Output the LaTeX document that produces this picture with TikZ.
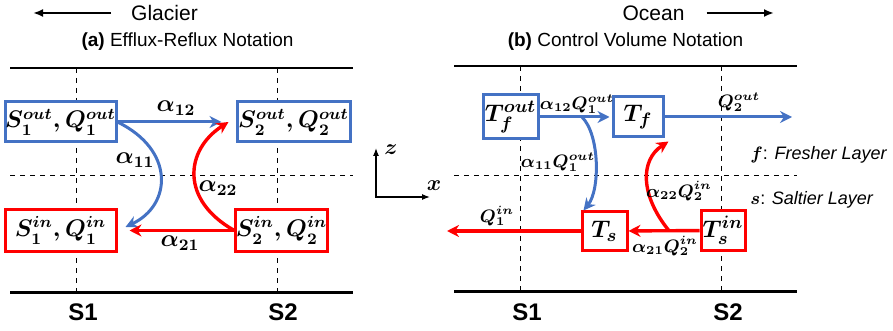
\documentclass[tikz,border=0pt]{standalone}
\usepackage{amsmath}
\usepackage{fontspec}
\setmainfont{Liberation Sans}
\usetikzlibrary{arrows.meta}
\definecolor{fblue}{RGB}{68,114,196}
\definecolor{sred}{RGB}{255,0,0}

\begin{document}
\begin{tikzpicture}[x=0.5pt,y=-0.5pt,
    bluebox/.style={draw=fblue,line width=1.5pt,fill=white,inner sep=0pt,font=\fontsize{12}{14}\selectfont},
    redbox/.style={bluebox,draw=sred},
    bluearrow/.style={draw=fblue,line width=1.5pt,-{Stealth[length=6pt,width=6pt]}},
    redarrow/.style={draw=sred,line width=1.7pt,-{Stealth[length=6pt,width=6pt]}},
    gridline/.style={dash pattern=on 2.5pt off 2.5pt,line width=0.5pt},
    flux/.style={inner sep=1pt,font=\fontsize{12}{14}\selectfont},
    fluxsmall/.style={inner sep=0.5pt,font=\fontsize{9}{10}\selectfont},
    slabel/.style={font=\fontsize{12}{14}\selectfont\bfseries},
    layer/.style={anchor=west,inner sep=1pt,font=\fontsize{9}{11}\selectfont}]
    \useasboundingbox (0,0) rectangle (893,331);
    % headings
    \node[font=\fontsize{10.5}{12}\selectfont] (glacier) at (164.5,13) {Glacier};
    \coordinate (glend) at (33,13);
    \draw[line width=1pt,-{Latex[length=5pt,width=4pt]}] ([xshift=-6.5pt]glacier.west) -- (glend);
    \node[font=\fontsize{10.5}{12}\selectfont] (ocean) at (653.5,13) {Ocean};
    \coordinate (ocend) at (774,13);
    \draw[line width=1pt,-{Latex[length=5pt,width=4pt]}] ([xshift=7.5pt]ocean.east) -- (ocend);
    \node[font=\fontsize{9.5}{11}\selectfont] (titlea) at (187.5,42) {\textbf{(a)} Efflux-Reflux Notation};
    \node[font=\fontsize{9.5}{11}\selectfont] (titleb) at (625.5,42) {\textbf{(b)} Control Volume Notation};
    % frames
    \draw[line width=0.6pt] (10,68) -- (353,68);
    \draw[line width=1.5pt] (10,292) -- (353,292);
    \draw[line width=0.6pt] (454,66) -- (797,66);
    \draw[line width=1.5pt] (454,291) -- (797,291);
    \draw[gridline] (76,68) -- (76,292);
    \draw[gridline] (277,68) -- (277,292);
    \draw[gridline] (10,176) -- (353,176);
    \draw[gridline] (520,66) -- (520,291);
    \draw[gridline] (721,66) -- (721,291);
    \draw[gridline] (454,176) -- (797,176);
    \node[slabel] (s1a) at (83,312) {S1};
    \node[slabel] (s2a) at (283,312) {S2};
    \node[slabel] (s1b) at (527,312) {S1};
    \node[slabel] (s2b) at (728,312) {S2};
    % axes
    \coordinate (origin) at (376,197);
    \coordinate (zend) at (376,148);
    \coordinate (xend) at (430,197);
    \draw[line width=0.6pt,{Latex[length=4pt,width=3pt]}-{Latex[length=4pt,width=3pt]}] (zend) -- (origin) -- (xend);
    \node[font=\fontsize{11}{13}\selectfont] (zlab) at (391,150) {$\boldsymbol{z}$};
    \node[font=\fontsize{11}{13}\selectfont] (xlab) at (434,186) {$\boldsymbol{x}$};
    \node[layer] (fresh) at (748,155) {$\boldsymbol{f}$: \textit{Fresher Layer}};
    \node[layer] (salt) at (748,200) {$\boldsymbol{s}$: \textit{Saltier Layer}};
    % (a) boxes
    \node[bluebox,minimum width=55.5pt,minimum height=20pt] (s1out) at (60.5,122) {$\boldsymbol{S_1^{out},Q_1^{out}}$};
    \node[bluebox,minimum width=56.5pt,minimum height=20pt] (s2out) at (293.5,122) {$\boldsymbol{S_2^{out},Q_2^{out}}$};
    \node[redbox,minimum width=55.5pt,minimum height=20.5pt] (s1in) at (60.5,230.5) {$\boldsymbol{S_1^{in},Q_1^{in}}$};
    \node[redbox,minimum width=44.5pt,minimum height=20.5pt] (s2in) at (281.5,230.5) {$\boldsymbol{S_2^{in},Q_2^{in}}$};
    % (a) fluxes
    \draw[bluearrow,shorten >=7pt] (s1out) -- (s2out);
    \draw[bluearrow] (s1out.east) .. controls (175,150) and (172,205) .. ([shift={(4pt,1.75pt)}]s1in.east);
    \draw[redarrow,shorten >=6pt] (s2in) -- (s1in);
    \draw[redarrow] (s2in.west) .. controls (180,200) and (185,150) .. ([xshift=-3.5pt]s2out.west);
    \node[flux] (a12) at (176,108) {$\boldsymbol{\alpha_{12}}$};
    \node[flux] (a11) at (135,160) {$\boldsymbol{\alpha_{11}}$};
    \node[flux] (a22) at (218,188) {$\boldsymbol{\alpha_{22}}$};
    \node[flux] (a21) at (180,243) {$\boldsymbol{\alpha_{21}}$};
    % (b) boxes
    \node[bluebox,font=\fontsize{13}{15}\selectfont,minimum width=27.5pt,minimum height=22pt] (tfout) at (510.5,117) {$\boldsymbol{T_f^{out}}$};
    \node[bluebox,font=\fontsize{13}{15}\selectfont,minimum width=25pt,minimum height=20pt] (tf) at (638,117) {$\boldsymbol{T_f}$};
    \node[redbox,font=\fontsize{13}{15}\selectfont,minimum width=22.5pt,minimum height=19pt] (ts) at (604.5,231) {$\boldsymbol{T_s}$};
    \node[redbox,font=\fontsize{13}{15}\selectfont,minimum width=22pt,minimum height=19.5pt] (tsin) at (723,230.5) {$\boldsymbol{T_s^{in}}$};
    % (b) fluxes
    \coordinate (q2end) at (792,117);
    \coordinate (q1end) at (447,231);
    \draw[bluearrow,shorten >=1pt] (tfout) -- (tf) coordinate[pos=0.59] (b11);
    \draw[bluearrow] (tf) -- (q2end);
    \draw[bluearrow] (b11) .. controls (600,135) and (600,190) .. ([xshift=1.5pt]ts.north west);
    \draw[redarrow] (tsin) -- (ts) coordinate[pos=0.43] (b22);
    \draw[redarrow] (ts) -- (q1end);
    \draw[redarrow] (b22) .. controls (640,195) and (640,160) .. ([shift={(2pt,-1.5pt)}]tf.south east);
    \node[fluxsmall] (a12q) at (577,104) {$\boldsymbol{\alpha_{12}Q_1^{out}}$};
    \node[fluxsmall] (a11q) at (558,162) {$\boldsymbol{\alpha_{11}Q_1^{out}}$};
    \node[fluxsmall] (a22q) at (679,191) {$\boldsymbol{\alpha_{22}Q_2^{in}}$};
    \node[fluxsmall] (a21q) at (665,246) {$\boldsymbol{\alpha_{21}Q_2^{in}}$};
    \node[fluxsmall] (q1in) at (497,216) {$\boldsymbol{Q_1^{in}}$};
    \node[fluxsmall] (q2out) at (739,102) {$\boldsymbol{Q_2^{out}}$};
\end{tikzpicture}
\end{document}
